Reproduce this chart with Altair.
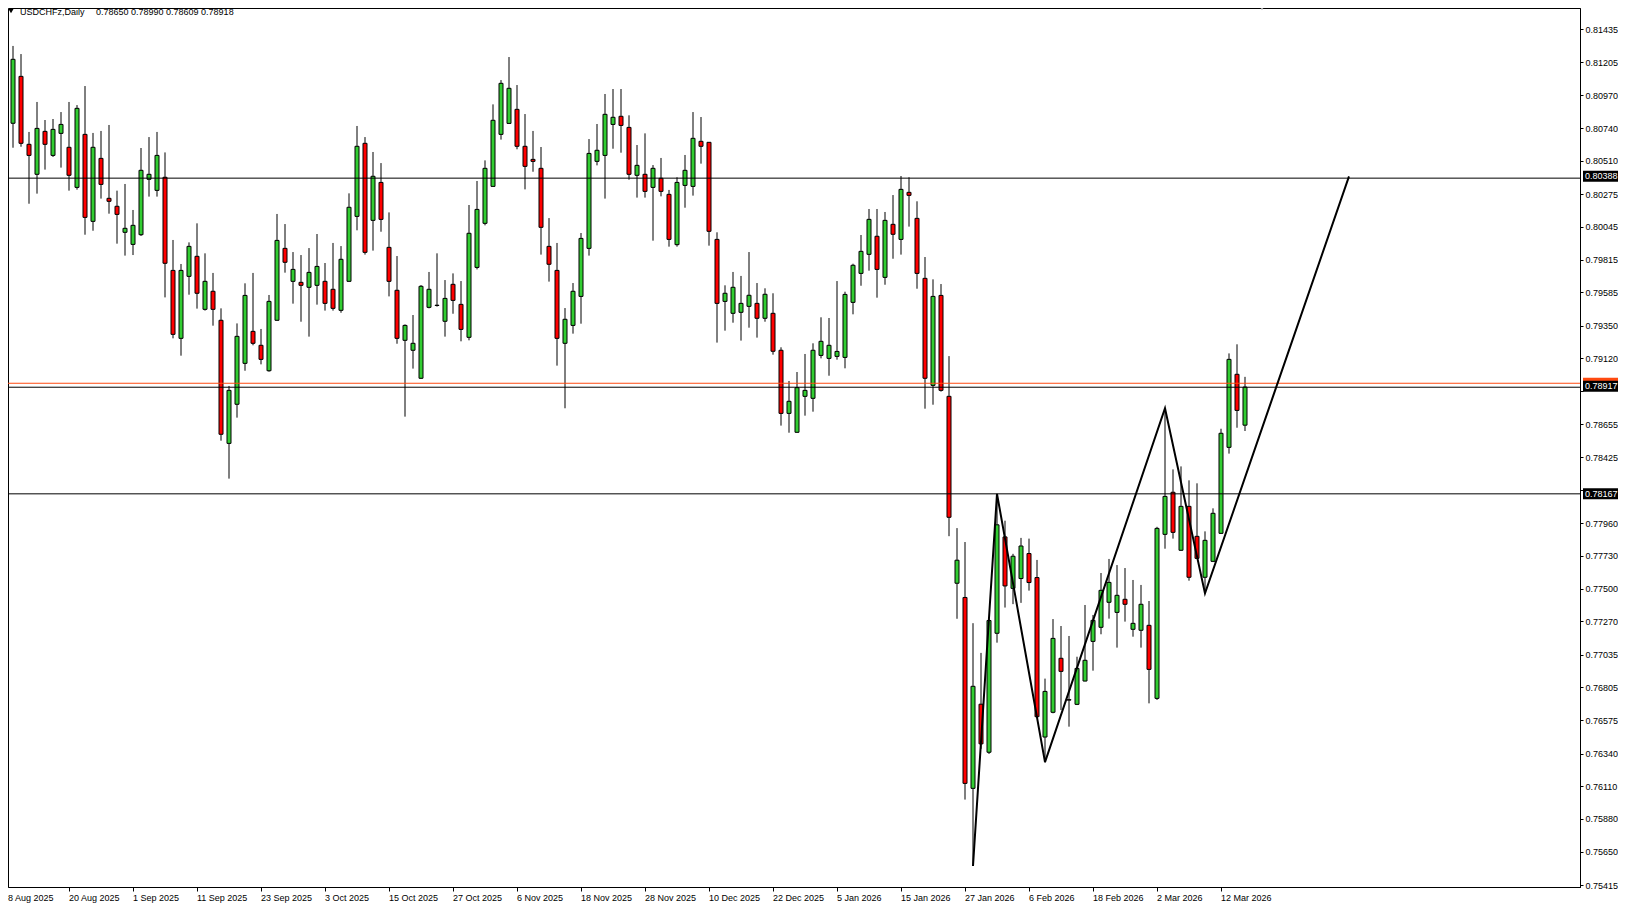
import altair as alt
import pandas as pd

# ---------------- data ----------------
opens = [0.80654, 0.80774, 0.81104, 0.80626, 0.80415, 0.80717, 0.80548, 0.80703, 0.80605, 0.80323,
         0.80696, 0.80084, 0.80527, 0.80246, 0.80190, 0.80007, 0.79922, 0.79990, 0.80380, 0.80302,
         0.80394, 0.79739, 0.79261, 0.79697, 0.79838, 0.79465, 0.79592, 0.79388, 0.78522, 0.78797,
         0.79085, 0.79310, 0.79212, 0.79033, 0.79388, 0.79894, 0.79662, 0.79655, 0.79620, 0.79634,
         0.79662, 0.79606, 0.79458, 0.79662, 0.80119, 0.80633, 0.80091, 0.80358, 0.79901, 0.79599,
         0.79247, 0.79177, 0.78980, 0.79479, 0.79492, 0.79381, 0.79641, 0.79500, 0.79268, 0.79760,
         0.80070, 0.80330, 0.80696, 0.80773, 0.80872, 0.80612, 0.80520, 0.80457, 0.79908, 0.79739,
         0.79226, 0.79352, 0.79556, 0.79894, 0.80506, 0.80548, 0.80766, 0.80823, 0.80745, 0.80408,
         0.80415, 0.80323, 0.80387, 0.80274, 0.79920, 0.80337, 0.80330, 0.80647, 0.80640, 0.79957,
         0.79521, 0.79437, 0.79444, 0.79486, 0.79507, 0.79402, 0.79437, 0.79177, 0.78733, 0.78600,
         0.78853, 0.78839, 0.79141, 0.79120, 0.79134, 0.79127, 0.79514, 0.79718, 0.79852, 0.79979,
         0.79690, 0.80063, 0.79957, 0.80288, 0.80105, 0.79683, 0.78930, 0.79563, 0.78853, 0.77538,
         0.77438, 0.76095, 0.76687, 0.76349, 0.77186, 0.77864, 0.77502, 0.77571, 0.77747, 0.77578,
         0.76456, 0.76630, 0.77010, 0.76719, 0.76686, 0.76850, 0.77129, 0.77228, 0.77404, 0.77333,
         0.77425, 0.77214, 0.77207, 0.77242, 0.76728, 0.77882, 0.78178, 0.77770, 0.78079, 0.77868,
         0.77580, 0.77692, 0.77889, 0.78494, 0.79008, 0.78650]
highs = [0.80884, 0.81318, 0.81261, 0.80713, 0.80924, 0.80797, 0.80804, 0.80853, 0.80924, 0.80902,
         0.81036, 0.80706, 0.80720, 0.80762, 0.80300, 0.80347, 0.80164, 0.80600, 0.80677, 0.80713,
         0.80569, 0.79953, 0.79784, 0.79936, 0.80070, 0.79859, 0.79721, 0.79472, 0.78926, 0.79366,
         0.79648, 0.79721, 0.79327, 0.79566, 0.80136, 0.80065, 0.79868, 0.79847, 0.79896, 0.79995,
         0.79791, 0.79932, 0.79910, 0.80281, 0.80755, 0.80677, 0.80572, 0.80494, 0.80147, 0.79840,
         0.79359, 0.79425, 0.79636, 0.79728, 0.79859, 0.79671, 0.79718, 0.79664, 0.80199, 0.80368,
         0.80513, 0.80907, 0.81078, 0.81240, 0.81043, 0.80839, 0.80720, 0.80607, 0.80107, 0.79932,
         0.79474, 0.79650, 0.80002, 0.80663, 0.80769, 0.80980, 0.81015, 0.81015, 0.80830, 0.80621,
         0.80703, 0.80480, 0.80530, 0.80305, 0.80394, 0.80551, 0.80853, 0.80818, 0.80641, 0.80007,
         0.79634, 0.79728, 0.79700, 0.79868, 0.79650, 0.79613, 0.79578, 0.79198, 0.78961, 0.79024,
         0.79151, 0.79226, 0.79409, 0.79404, 0.79664, 0.79589, 0.79786, 0.79988, 0.80171, 0.80171,
         0.80150, 0.80269, 0.80403, 0.80394, 0.80225, 0.79833, 0.79676, 0.79643, 0.79136, 0.77926,
         0.77828, 0.77257, 0.77048, 0.77285, 0.78160, 0.77978, 0.77745, 0.77857, 0.77852, 0.77702,
         0.76867, 0.77286, 0.77237, 0.77167, 0.77021, 0.77385, 0.77315, 0.77610, 0.77709, 0.77666,
         0.77645, 0.77561, 0.77526, 0.77413, 0.77935, 0.78768, 0.78339, 0.78360, 0.78262, 0.78241,
         0.77903, 0.78065, 0.78625, 0.79155, 0.79219, 0.78990]
lows = [0.80492, 0.80602, 0.80609, 0.80208, 0.80279, 0.80448, 0.80537, 0.80462, 0.80300, 0.80307,
        0.79990, 0.80018, 0.80244, 0.80138, 0.79927, 0.79843, 0.79847, 0.79981, 0.80258, 0.80258,
        0.79549, 0.79261, 0.79139, 0.79568, 0.79470, 0.79456, 0.79350, 0.78541, 0.78274, 0.78703,
        0.79033, 0.79212, 0.79078, 0.79026, 0.79386, 0.79723, 0.79505, 0.79378, 0.79273, 0.79498,
        0.79456, 0.79456, 0.79441, 0.79660, 0.80021, 0.79850, 0.79878, 0.80011, 0.79556, 0.79223,
        0.78710, 0.79048, 0.78975, 0.79472, 0.79484, 0.79273, 0.79434, 0.79240, 0.79247, 0.79746,
        0.80056, 0.80328, 0.80659, 0.80771, 0.80591, 0.80309, 0.80433, 0.79850, 0.79660, 0.79069,
        0.78769, 0.79294, 0.79364, 0.79843, 0.80478, 0.80244, 0.80595, 0.80567, 0.80377, 0.80251,
        0.80251, 0.79948, 0.80260, 0.79906, 0.79906, 0.80180, 0.80265, 0.80490, 0.79913, 0.79231,
        0.79315, 0.79371, 0.79245, 0.79336, 0.79266, 0.79378, 0.79146, 0.78647, 0.78597, 0.78597,
        0.78717, 0.78745, 0.79120, 0.78998, 0.79111, 0.79050, 0.79430, 0.79631, 0.79737, 0.79547,
        0.79638, 0.79821, 0.79850, 0.80047, 0.79610, 0.78766, 0.78794, 0.78886, 0.77869, 0.77288,
        0.76016, 0.75550, 0.76373, 0.76337, 0.77120, 0.77367, 0.77391, 0.77400, 0.77486, 0.76590,
        0.76278, 0.76623, 0.76646, 0.76529, 0.76681, 0.76848, 0.76923, 0.77179, 0.77289, 0.77085,
        0.77268, 0.77162, 0.77085, 0.76693, 0.76717, 0.77781, 0.77852, 0.77765, 0.77556, 0.77708,
        0.77467, 0.77687, 0.77885, 0.78450, 0.78632, 0.78609]
closes = [0.80816, 0.81224, 0.80633, 0.80548, 0.80738, 0.80626, 0.80731, 0.80766, 0.80408, 0.80879,
          0.80112, 0.80605, 0.80344, 0.80225, 0.80133, 0.80035, 0.80056, 0.80443, 0.80415, 0.80548,
          0.79789, 0.79289, 0.79739, 0.79908, 0.79578, 0.79662, 0.79465, 0.78586, 0.78895, 0.79275,
          0.79563, 0.79226, 0.79113, 0.79521, 0.79950, 0.79796, 0.79746, 0.79634, 0.79725, 0.79767,
          0.79507, 0.79472, 0.79817, 0.80183, 0.80612, 0.79866, 0.80401, 0.80098, 0.79662, 0.79261,
          0.79352, 0.79226, 0.79627, 0.79606, 0.79494, 0.79542, 0.79528, 0.79324, 0.80000, 0.80168,
          0.80457, 0.80795, 0.81055, 0.81020, 0.80612, 0.80471, 0.80506, 0.80042, 0.79782, 0.79261,
          0.79395, 0.79592, 0.79964, 0.80562, 0.80584, 0.80837, 0.80816, 0.80759, 0.80415, 0.80478,
          0.80295, 0.80457, 0.80295, 0.79957, 0.80358, 0.80443, 0.80668, 0.80612, 0.80014, 0.79507,
          0.79578, 0.79620, 0.79507, 0.79564, 0.79402, 0.79571, 0.79170, 0.78733, 0.78818, 0.78914,
          0.78895, 0.79177, 0.79240, 0.79212, 0.79169, 0.79570, 0.79775, 0.79873, 0.80098, 0.79746,
          0.80091, 0.79993, 0.80309, 0.80267, 0.79718, 0.78980, 0.79556, 0.78895, 0.78002, 0.77700,
          0.76130, 0.76813, 0.76408, 0.77276, 0.77949, 0.77519, 0.77728, 0.77800, 0.77543, 0.76599,
          0.76777, 0.77150, 0.76918, 0.76716, 0.76939, 0.76996, 0.77277, 0.77488, 0.77544, 0.77453,
          0.77390, 0.77256, 0.77390, 0.76932, 0.77924, 0.78149, 0.77896, 0.78079, 0.77580, 0.77713,
          0.77840, 0.78030, 0.78593, 0.79113, 0.78754, 0.78918]

date_labels = ["8 Aug 2025", "20 Aug 2025", "1 Sep 2025", "11 Sep 2025", "23 Sep 2025",
               "3 Oct 2025", "15 Oct 2025", "27 Oct 2025", "6 Nov 2025", "18 Nov 2025",
               "28 Nov 2025", "10 Dec 2025", "22 Dec 2025", "5 Jan 2026", "15 Jan 2026",
               "27 Jan 2026", "6 Feb 2026", "18 Feb 2026", "2 Mar 2026", "12 Mar 2026"]
bars_per_label = 8

price_ticks = [0.81435, 0.81205, 0.80970, 0.80740, 0.80510, 0.80275, 0.80045, 0.79815,
               0.79585, 0.79350, 0.79120, 0.78890, 0.78655, 0.78425, 0.78195, 0.77960,
               0.77730, 0.77500, 0.77270, 0.77035, 0.76805, 0.76575, 0.76340, 0.76110,
               0.75880, 0.75650, 0.75415]
# tick labels that sit under the price-line tags in the reference
covered_ticks = ["0.78890", "0.78195"]

hline_levels = [0.80388, 0.78917, 0.78167]
hline_label_dy = [-2, -1, 0]
ask_level = 0.78945

zigzag_bar = [121, 124, 130, 145, 150, 168]
zigzag_price = [0.75549, 0.78167, 0.76280, 0.78769, 0.77467, 0.80400]

header_symbol = "USDCHFz,Daily"
header_values = "0.78650 0.78990 0.78609 0.78918"

# ---------------- styling ----------------
FONT = "Liberation Sans"
GREEN = "#32CD32"
RED = "#FF0000"
ASK = "#FF4A10"
W, H = 1572, 879
X_LO, X_HI = 0.375, 196.875

df = pd.DataFrame({"i": list(range(len(opens))), "open": opens, "high": highs,
                   "low": lows, "close": closes})
df["dir"] = ["up" if c >= o else "down" for o, c in zip(opens, closes)]

xs = alt.Scale(domain=[X_LO, X_HI], nice=False, zero=False, padding=0)
ys = alt.Scale(domain=[0.75401, 0.81585], nice=False, zero=False, padding=0)

tick_pos = [k * bars_per_label for k in range(len(date_labels))]
x_axis = alt.Axis(values=tick_pos, labels=False, title=None, grid=False, domain=True,
                  domainColor="black", ticks=True, tickSize=4, tickColor="black")
covered_arr = "[" + ",".join("'" + s + "'" for s in covered_ticks) + "]"
y_axis = alt.Axis(orient="right", values=price_ticks, format=".5f", title=None, grid=False,
                  labelExpr="indexof(" + covered_arr + ", datum.label) >= 0 ? '' : datum.label",
                  domain=True, domainColor="black", ticks=True, tickSize=3, tickColor="black",
                  labelPadding=2, labelAlign="left", labelBaseline="middle", labelFont=FONT,
                  labelFontSize=9, labelColor="black", labelFlush=False, labelOverlap=False,
                  labelBound=False)


def X(field):
    return alt.X(field, scale=xs, axis=x_axis)


def Y(field):
    return alt.Y(field, scale=ys, axis=y_axis)


base = alt.Chart(df)
wicks = base.mark_rule(color="black", strokeWidth=1).encode(
    x=X("i:Q"), y=Y("low:Q"), y2="high:Q")
bodies = base.mark_bar(size=4, stroke="black", strokeWidth=1, orient="vertical").encode(
    x=X("i:Q"), y=Y("open:Q"), y2="close:Q",
    color=alt.Color("dir:N", scale=alt.Scale(domain=["up", "down"], range=[GREEN, RED]),
                    legend=None))

date_df = pd.DataFrame({"pos": tick_pos, "lab": date_labels})
dates = alt.Chart(date_df).transform_calculate(
    lx="max(datum.pos, " + str(X_LO) + ")"
).mark_text(align="left", baseline="middle", font=FONT, fontSize=9, color="black").encode(
    x=X("lx:Q"), y=alt.value(H + 11), text="lab:N")

hl_df = pd.DataFrame({"level": hline_levels})
hlines = alt.Chart(hl_df).mark_rule(color="black", strokeWidth=1).encode(y=Y("level:Q"))
ask_df = pd.DataFrame({"level": [ask_level]})
ask = alt.Chart(ask_df).mark_rule(color=ASK, strokeWidth=1).encode(y=Y("level:Q"))
ask_box = alt.Chart(ask_df).mark_rule(color=ASK, strokeWidth=11).encode(
    x=alt.value(W + 3), x2=alt.value(W + 38), y=Y("level:Q"))

zz_df = pd.DataFrame({"bar": zigzag_bar, "price": zigzag_price, "k": list(range(len(zigzag_bar)))})
zigzag = alt.Chart(zz_df).mark_line(color="black", strokeWidth=2).encode(
    x=X("bar:Q"), y=Y("price:Q"), order="k:Q")

label_layers = []
for lv, dy in zip(hline_levels, hline_label_dy):
    ldf = pd.DataFrame({"level": [lv], "txt": [f"{lv:.5f}"]})
    box = alt.Chart(ldf).mark_rule(color="black", strokeWidth=11, yOffset=dy).encode(
        x=alt.value(W + 3), x2=alt.value(W + 38), y=Y("level:Q"))
    txt = alt.Chart(ldf).mark_text(align="left", baseline="middle", color="white", dy=dy,
                                   font=FONT, fontSize=9).encode(
        x=alt.value(W + 5), y=Y("level:Q"), text="txt:N")
    label_layers += [box, txt]

hdr1 = alt.Chart(pd.DataFrame({"t": [header_symbol]})).mark_text(
    align="left", baseline="middle", font=FONT, fontSize=9, color="black").encode(
    x=alt.value(12), y=alt.value(4), text="t:N")
hdr2 = alt.Chart(pd.DataFrame({"t": [header_values]})).mark_text(
    align="left", baseline="middle", font=FONT, fontSize=9, color="black").encode(
    x=alt.value(88), y=alt.value(4), text="t:N")
tri = alt.Chart(pd.DataFrame({"a": [1]})).mark_point(
    shape="triangle-down", filled=True, color="black", size=28, opacity=1).encode(
    x=alt.value(3), y=alt.value(3))
shift = alt.Chart(pd.DataFrame({"a": [1]})).mark_point(
    shape="triangle-down", filled=True, color="#A8A8A8", size=30, opacity=1).encode(
    x=alt.value(1254), y=alt.value(0))

chart = alt.layer(wicks, bodies, dates, hlines, ask, zigzag, ask_box, *label_layers,
                  hdr1, hdr2, tri, shift).properties(
    width=W, height=H,
    autosize=alt.AutoSizeParams(type="none"),
    padding={"left": 0, "top": 0, "right": 38, "bottom": 17},
    background="white",
).configure_view(stroke="black", strokeWidth=1)

chart.save("out.html", embed_options={"renderer": "svg", "actions": False})
